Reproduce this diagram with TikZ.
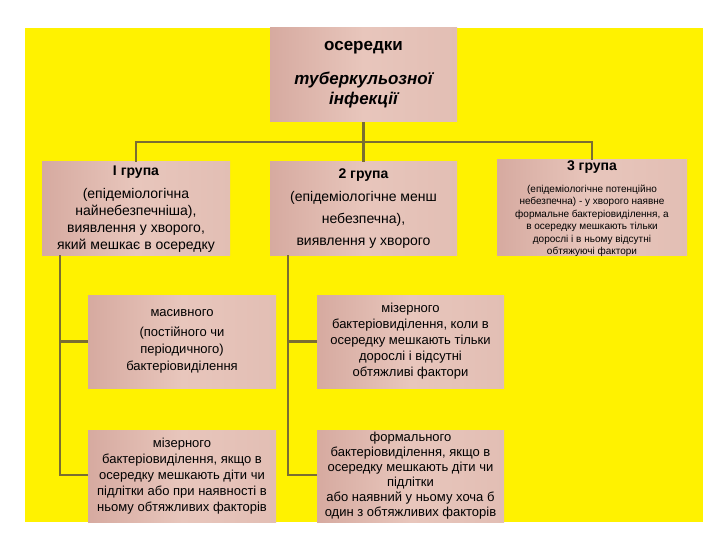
\documentclass[tikz,border=0pt]{standalone}
\usepackage{fontspec}
\setmainfont{Liberation Sans}
\begin{document}
\begin{tikzpicture}[x=1pt,y=-1pt,
  box/.style={draw=none,inner sep=1pt,align=center,left color=boxa,right color=boxb,middle color=boxc,text=black},
  conn/.style={draw=linec,line width=2.2pt}]
\definecolor{boxa}{RGB}{214,170,160}
\definecolor{boxb}{RGB}{226,190,180}
\definecolor{boxc}{RGB}{232,198,188}
\definecolor{linec}{RGB}{122,110,50}
\useasboundingbox (0,0) rectangle (720,540);
\fill[white] (0,0) rectangle (720,540);
\fill[yellow] (25,28) rectangle (703,522);
\node[box,minimum width=187pt,minimum height=94pt] (top) at (363.5,75) {};
\node[font=\bfseries\fontsize{17}{20}\selectfont] (t1) at (363.5,48) {осередки};
\node[font=\bfseries\itshape\fontsize{17}{20}\selectfont,align=center] (t2) at (363.5,90) {туберкульозної\\інфекції};
\node[box,minimum width=188pt,minimum height=93pt] (g1) at (136,208.5) {};
\node[font=\bfseries\fontsize{14}{16}\selectfont] (g1t) at (136,172) {I група};
\node[font=\fontsize{14}{17}\selectfont,align=center] (g1b) at (136,220) {(епідеміологічна\\найнебезпечніша),\\виявлення у хворого,\\який мешкає в осередку};
\node[box,minimum width=187pt,minimum height=93pt] (g2) at (363.5,208.5) {};
\node[font=\bfseries\fontsize{14}{16}\selectfont] (g2t) at (363.5,175) {2 група};
\node[font=\fontsize{14}{22}\selectfont,align=center] (g2b) at (363.5,220) {(епідеміологічне менш\\небезпечна),\\виявлення у хворого};
\node[box,minimum width=190pt,minimum height=95pt] (g3) at (592,207.5) {};
\node[font=\bfseries\fontsize{14}{16}\selectfont] (g3t) at (592,167) {3 група};
\node[font=\fontsize{10}{12.5}\selectfont,align=center] (g3b) at (592,221) {(епідеміологічне потенційно\\небезпечна) - у хворого наявне\\формальне бактеріовиділення, а\\в осередку мешкають тільки\\дорослі і в ньому відсутні\\обтяжуючі фактори};
\node[box,minimum width=188pt,minimum height=93pt,font=\fontsize{13}{17}\selectfont] (a) at (182,341.5) {масивного\\[3pt](постійного чи\\періодичного)\\бактеріовиділення};
\node[box,minimum width=188pt,minimum height=92pt,font=\fontsize{13}{16}\selectfont] (b) at (182,476) {мізерного\\бактеріовиділення, якщо в\\осередку мешкають діти чи\\підлітки або при наявності в\\ньому обтяжливих факторів};
\node[box,minimum width=187pt,minimum height=93pt,font=\fontsize{13}{16}\selectfont] (c) at (410.5,341.5) {мізерного\\бактеріовиділення, коли в\\осередку мешкають тільки\\дорослі і відсутні\\обтяжливі фактори};
\node[box,minimum width=187pt,minimum height=92pt,font=\fontsize{13}{15}\selectfont] (d) at (410.5,476) {формального\\бактеріовиділення, якщо в\\осередку мешкають діти чи\\підлітки\\або наявний у ньому хоча б\\один з обтяжливих факторів};
\coordinate (h) at (363.5,142);
\draw[conn] (top.south) -- (h);
\draw[conn] (g1.north) -- (136,142) -- (592,142) -- (g3.north);
\draw[conn] (h) -- (g2.north);
\draw[conn] (g1.south -| 60,0) -- (60,475) -- (b.west |- 0,475);
\draw[conn] (60,341.5) -- (a.west);
\draw[conn] (g2.south -| 288,0) -- (288,475) -- (d.west |- 0,475);
\draw[conn] (288,341.5) -- (c.west);
\end{tikzpicture}
\end{document}
